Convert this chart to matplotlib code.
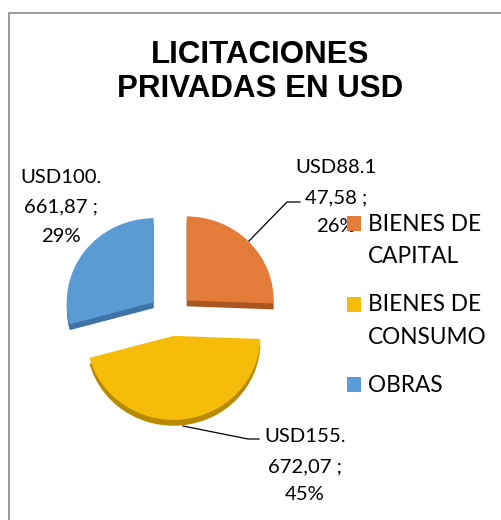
import matplotlib
matplotlib.use("Agg")
import matplotlib.pyplot as plt
from matplotlib.patches import Rectangle
import numpy as np

title_lines = ["LICITACIONES", "PRIVADAS EN USD"]
categories = ["BIENES DE\nCAPITAL", "BIENES DE\nCONSUMO", "OBRAS"]
values = [88147.58, 155672.07, 100661.87]
data_labels = ["USD88.1\n47,58 ;\n26%", "USD155.\n672,07 ;\n45%", "USD100.\n661,87 ;\n29%"]
colors = ["#E27C38", "#F5BC0A", "#5B9BD5"]
dark_colors = ["#A9561F", "#B88A00", "#3F73A6"]

W, H = 501, 520
fig = plt.figure(figsize=(W / 100, H / 100), dpi=100)

# overlay axes in pixel coordinates (y downwards)
ov = fig.add_axes([0, 0, 1, 1])
ov.set_xlim(0, W)
ov.set_ylim(H, 0)
ov.axis("off")

# frame
ov.plot([9.5, 9.5, W + 5], [H + 5, 12.5, 12.5], color="#888888", lw=1.2, zorder=1)

# title
for line, yb in zip(title_lines, [63, 97]):
    ov.text(260, yb, line, ha="center", va="baseline", fontsize=22.5,
            fontweight="bold", family="Liberation Sans")

# pie axes (slightly flattened to mimic the tilted 3D pie)
cx, cy, rx, ry = 171, 315, 87, 84
hx, hy = 1.5 * rx, 1.5 * ry
pax = fig.add_axes([(cx - hx) / W, (H - cy - hy) / H, 2 * hx / W, 2 * hy / H])

explode = [0.25, 0.25, 0.25]
pax.pie(values, colors=dark_colors, startangle=90, counterclock=False,
        explode=explode, center=(0, -0.07), wedgeprops=dict(linewidth=0))
wedges, _ = pax.pie(values, colors=colors, startangle=90, counterclock=False,
                    explode=explode, wedgeprops=dict(linewidth=0))
pax.set_xlim(-1.5, 1.5)
pax.set_ylim(-1.5, 1.5)
pax.set_aspect("auto")
pax.axis("off")

# data labels (one text per line, baseline positions)
label_x = [336, 305, 61]
label_base = [[173, 203, 232], [442, 472, 500], [183, 212, 242]]
for x, ys, txt in zip(label_x, label_base, data_labels):
    for line, y in zip(txt.split("\n"), ys):
        ov.text(x, y, line, ha="center", va="baseline", fontsize=14.6,
                family="Lato", zorder=3)

# leader lines
ov.plot([248, 287, 300], [242, 202, 202], color="black", lw=0.9, zorder=2)
ov.plot([183, 248, 259], [426, 439, 439], color="black", lw=0.9, zorder=2)

# legend
leg_base = [[231, 263], [311, 344], [392]]
marker_c = [223.5, 304, 384.5]
for c, cat, ys, mc in zip(colors, categories, leg_base, marker_c):
    ov.add_patch(Rectangle((347, mc - 7.5), 14.5, 15, facecolor=c,
                           edgecolor="none", zorder=4))
    for line, y in zip(cat.split("\n"), ys):
        ov.text(368, y, line, ha="left", va="baseline", fontsize=16.3,
                family="Lato", zorder=4)

fig.savefig("out.png", dpi=100)
